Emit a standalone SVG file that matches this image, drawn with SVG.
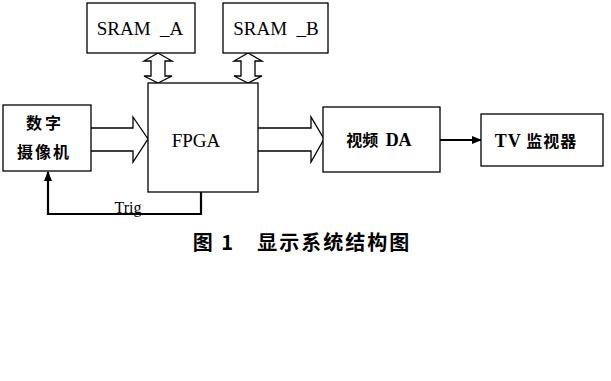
<svg xmlns="http://www.w3.org/2000/svg" width="611" height="381" viewBox="0 0 611 381">
<style>
.box{fill:#fff;stroke:#000;stroke-width:1.3}
.hollow{fill:#fff;stroke:#000;stroke-width:1.3;stroke-linejoin:miter}
.lbl{font-family:"Liberation Serif","Noto Sans CJK SC",serif;font-size:19px;fill:#000;text-anchor:middle}
.cjk{font-family:"Noto Sans CJK SC","Liberation Serif",serif;font-size:16px;fill:#000;text-anchor:middle;font-weight:bold}
.line{fill:none;stroke:#000;stroke-width:2.2}
</style>
<defs>
<marker id="ah" markerWidth="10" markerHeight="8" refX="9" refY="4" orient="auto" markerUnits="userSpaceOnUse">
<path d="M0,0 L10,4 L0,8 Z" fill="#000"/>
</marker>
</defs>
<rect width="611" height="381" fill="#fff"/>
<g id="connectors">
<path class="hollow" d="M158,53 L172,61 L165,61 L165,76 L172,76 L158,83 L144,76 L151,76 L151,61 L144,61 Z"/>
<path class="hollow" d="M248,53 L262,61 L255,61 L255,76 L262,76 L248,83 L234,76 L241,76 L241,61 L234,61 Z"/>
<path class="hollow" d="M91,128 L133,128 L133,117 L148,139 L133,162 L133,151 L91,151"/>
<path class="hollow" d="M258,128 L311,128 L311,117 L324,139 L311,162 L311,151 L258,151"/>
<line class="line" x1="440" y1="140" x2="481" y2="140" marker-end="url(#ah)"/>
<path class="line" d="M201,192 L201,214 L48,214 L48,172" marker-end="url(#ah)"/>
<text x="128" y="213" font-family="Liberation Serif,serif" font-size="16" text-anchor="middle" fill="#000">Trig</text>
</g>
<g id="sram_a">
<rect class="box" x="87" y="3" width="108" height="50"/>
<text class="lbl" x="140" y="35" xml:space="preserve">SRAM  _A</text>
</g>
<g id="sram_b">
<rect class="box" x="223" y="3" width="105" height="50"/>
<text class="lbl" x="276" y="35" xml:space="preserve">SRAM  _B</text>
</g>
<g id="camera">
<rect class="box" x="3" y="105" width="88" height="66"/>
<text class="cjk" x="45" y="129" letter-spacing="3">数字</text>
<text class="cjk" x="44" y="158" letter-spacing="2">摄像机</text>
</g>
<g id="fpga">
<rect class="box" x="148" y="83" width="110" height="109"/>
<text class="lbl" x="196" y="147">FPGA</text>
</g>
<g id="da">
<rect class="box" x="323" y="107" width="117" height="65"/>
<text class="cjk" x="379" y="146" xml:space="preserve">视频  <tspan font-family="Liberation Serif,serif" font-size="18" font-weight="bold">DA</tspan></text>
</g>
<g id="tv">
<rect class="box" x="481" y="114" width="122" height="52"/>
<text class="cjk" x="536" y="147" letter-spacing="1"><tspan font-family="Liberation Serif,serif" font-size="18" font-weight="bold">TV</tspan> 监视器</text>
</g>
<text x="302" y="250" font-family="Noto Sans CJK SC,serif" font-size="20" font-weight="bold" text-anchor="middle" fill="#000" letter-spacing="2">图 1　显示系统结构图</text>
</svg>
